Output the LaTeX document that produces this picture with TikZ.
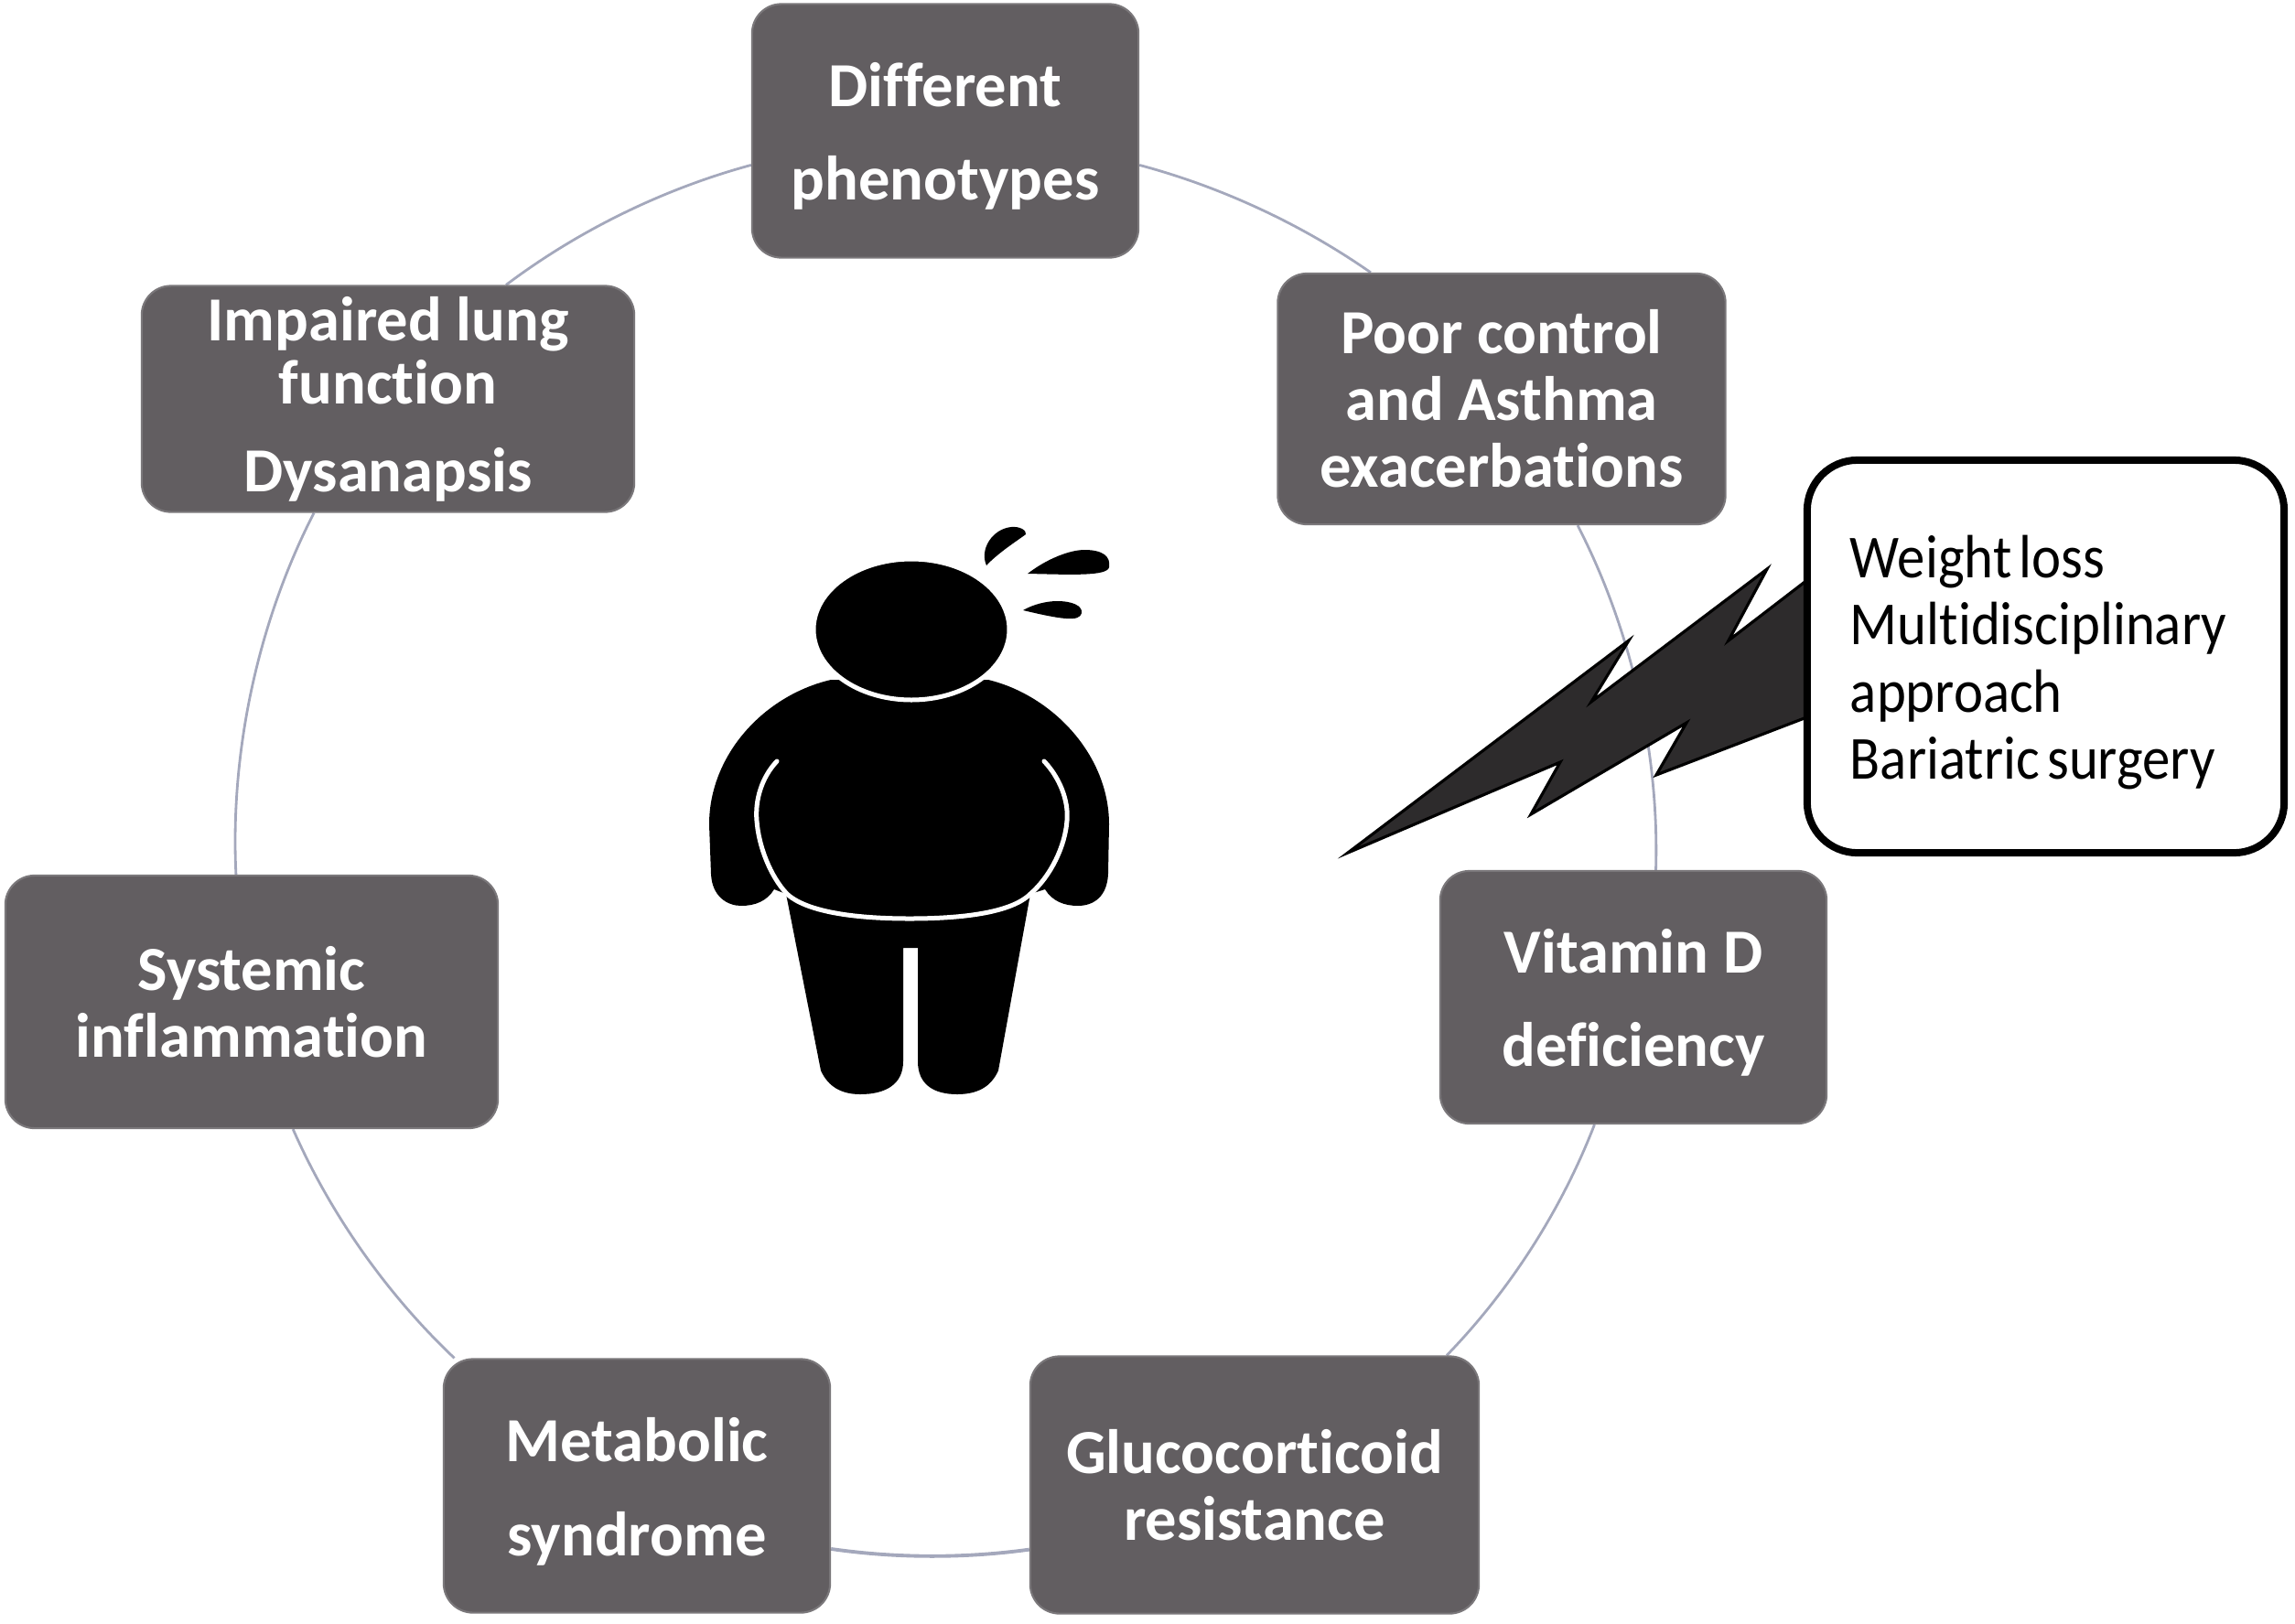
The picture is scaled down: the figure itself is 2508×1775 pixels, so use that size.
\documentclass[tikz,border=0pt]{standalone}
\usepackage{fontspec}
\setmainfont{Carlito}[Ligatures=NoCommon]
\newfontfamily\advicefont{Carlito}[Ligatures=NoCommon, FakeStretch=0.91, WordSpace=0.6]
\usepackage{tikz}
\usetikzlibrary{backgrounds}

\definecolor{boxfill}{HTML}{625E61}
\definecolor{boxedge}{HTML}{7A777A}
\definecolor{ringline}{HTML}{A4A8BC}
\definecolor{boltfill}{HTML}{2D2B2C}

\newcommand{\firststrut}{\rule{0pt}{17pt}}

\tikzset{
    medbox/.style={rectangle, rounded corners=0.32cm, fill=boxfill, draw=boxedge, line width=0.6pt,
        text=white, align=center, inner sep=0pt, font=\fontsize{19.5}{20.8}\selectfont\bfseries},
    ringarc/.style={draw=ringline, line width=0.8pt, bend left=#1, looseness=0.85},
    advicebox/.style={rectangle, rounded corners=0.55cm, fill=white, draw=black, line width=0.08cm,
        text=black, align=flush left, inner sep=0.47cm, font=\fontsize{19}{20.9}\advicefont\selectfont}
}

\begin{document}
\begin{tikzpicture}[x=0.01cm,y=-0.01cm]  % One unit is one pixel of the reference, y runs down
    \useasboundingbox (0,0) rectangle (2508,1775);

    % The seven boxes around the ring
    \node[medbox, minimum width=4.22cm, minimum height=2.77cm] (dif) at (1033,143) {\firststrut Different\\[8pt]phenotypes};
    \node[medbox, minimum width=4.89cm, minimum height=2.74cm] (poor) at (1641,436) {Poor control\\and Asthma\\exacerbations};
    \node[medbox, minimum width=4.22cm, minimum height=2.76cm] (vitd) at (1785,1090) {\firststrut Vitamin D\\[8pt]deficiency};
    \node[medbox, minimum width=4.90cm, minimum height=2.81cm] (gluco) at (1371,1623) {Glucocorticoid\\resistance};
    \node[medbox, minimum width=4.22cm, minimum height=2.77cm] (meta) at (696,1624) {\firststrut Metabolic\\[8.5pt]syndrome};
    \node[medbox, minimum width=5.38cm, minimum height=2.76cm] (sysinf) at (275,1095) {Systemic\\inflammation};
    \node[medbox, minimum width=5.38cm, minimum height=2.47cm] (lung) at (424,436) {Impaired lung\\[-1.2pt]function\\[6.5pt]Dysanapsis};

    % The ring, as arcs from box to box, behind the boxes
    \begin{scope}[on background layer]
        \draw[ringarc=10] (dif.-10) to (poor.136.4);
        \draw[ringarc=14.5] (poor.-59) to (vitd.80);
        \draw[ringarc=11.5] (vitd.-107) to (gluco.34.5);
        \draw[ringarc=8, line width=1.1pt] (gluco.196.9) to (meta.-18.2);
        \draw[ringarc=11.4] (meta.145.5) to (sysinf.-72);
        \draw[ringarc=15] (sysinf.97) to (lung.-123);
        \draw[ringarc=10.9] (lung.44.4) to (dif.190.2);
    \end{scope}

    % Body of the figure, arms and legs in one path
    \fill[black] (908,743) .. controls (835,760) and (775,825) .. (775,901)
        -- (777,955) .. controls (778,980) and (795,990) .. (810,990)
        .. controls (825,990) and (838,985) .. (846,972)
        -- (859,977) -- (897,1170) .. controls (905,1188) and (920,1196) .. (940,1196)
        .. controls (968,1196) and (987,1185) .. (987,1160)
        -- (987,1036) -- (1003,1036) -- (1003,1160)
        .. controls (1003,1185) and (1020,1196) .. (1046,1196)
        .. controls (1068,1196) and (1083,1188) .. (1091,1170)
        -- (1126,977) -- (1142,972) .. controls (1150,985) and (1163,990) .. (1178,990)
        .. controls (1195,990) and (1210,980) .. (1211,955)
        -- (1212,901) .. controls (1212,825) and (1150,760) .. (1080,743) -- cycle;

    % White line round the belly
    \draw[white, line width=0.05cm, line cap=round] (849,832) .. controls (832,850) and (825,875) .. (827,897)
        .. controls (829,925) and (842,958) .. (860,977)
        .. controls (885,1000) and (950,1004) .. (994,1004)
        .. controls (1040,1004) and (1103,1000) .. (1126,977)
        .. controls (1148,958) and (1164,925) .. (1166,897)
        .. controls (1168,875) and (1158,850) .. (1141,832);

    % Head, its white outline only shows over the body
    \filldraw[fill=black, draw=white, line width=0.05cm] (996,688) ellipse (107 and 77);

    % Sweat drops
    \fill[black] (1078,618) .. controls (1070,600) and (1085,578) .. (1105,576)
        .. controls (1115,575) and (1122,580) .. (1121,584) .. controls (1110,592) and (1090,605) .. (1078,618) -- cycle;
    \fill[black] (1123,627) .. controls (1145,610) and (1170,601) .. (1185,601)
        .. controls (1205,601) and (1214,608) .. (1212,620) .. controls (1210,630) and (1170,628) .. (1123,627) -- cycle;
    \fill[black] (1118,667) .. controls (1130,660) and (1145,657) .. (1155,657)
        .. controls (1172,657) and (1183,662) .. (1182,670) .. controls (1180,680) and (1160,677) .. (1118,667) -- cycle;

    % Lightning bolt, its wide end runs under the callout
    \filldraw[fill=boltfill, draw=black, line width=0.9pt] (1473,932) -- (1705,833) -- (1673,890) -- (1843,790)
        -- (1810,847) -- (1990,778) -- (1990,625) -- (1971,637) -- (1889,700) -- (1931,622)
        -- (1739,767) -- (1780,700) -- cycle;

    % Callout with the treatments
    \node[advicebox, text width=4.27cm, minimum height=4.29cm] (advice) at (2235.5,717.5)
        {\firststrut Weight loss\\Multidisciplinary\\approach\\Bariatric surgery};
\end{tikzpicture}
\end{document}
